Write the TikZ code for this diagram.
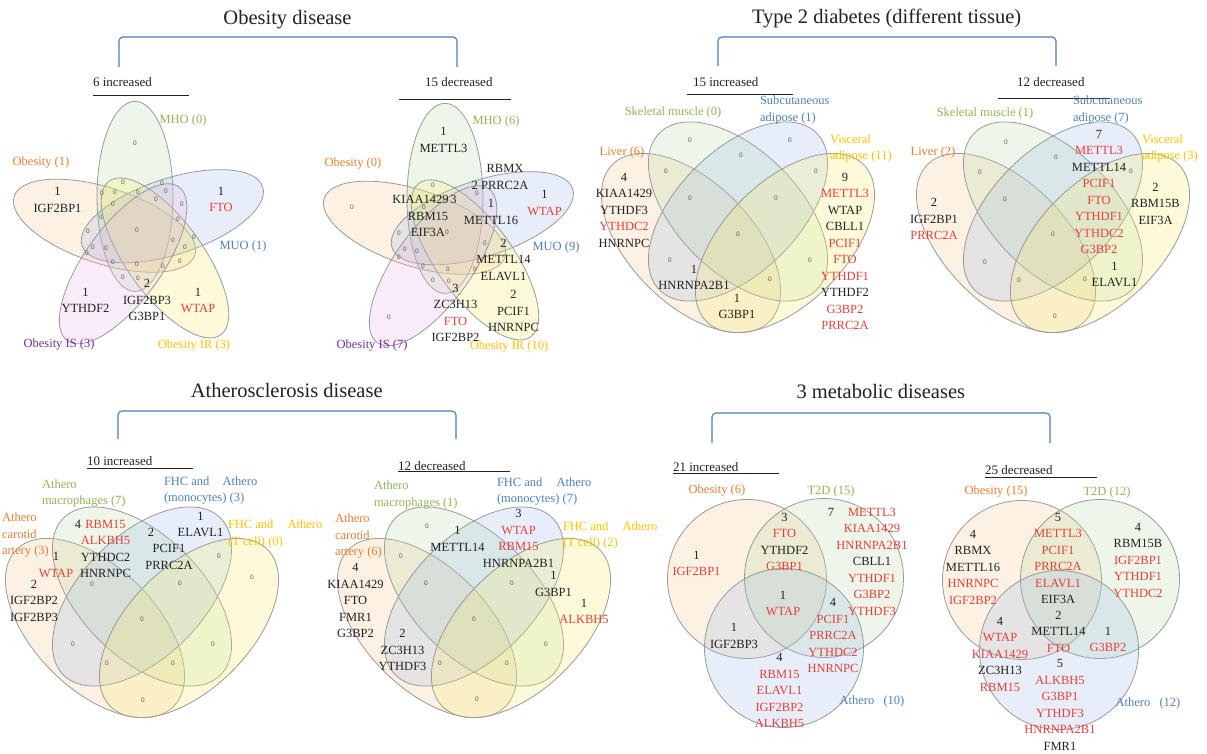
\documentclass[tikz,border=0pt]{standalone}
\usepackage{fontspec}
\setmainfont{Liberation Serif}
\setsansfont{Liberation Sans}
\definecolor{ink}{HTML}{222222}
\definecolor{gred}{HTML}{E5403A}
\definecolor{zgray}{HTML}{5A5A5A}
\definecolor{edge}{HTML}{9A9A9A}
\definecolor{bracket}{HTML}{4A7EBB}
\definecolor{cOr}{HTML}{ED7D31}
\definecolor{cGr}{HTML}{92B455}
\definecolor{cBl}{HTML}{4F81BD}
\definecolor{cYe}{HTML}{FFC000}
\definecolor{cPu}{HTML}{7030A0}
\definecolor{fOr}{HTML}{F4C68B}
\definecolor{fGr}{HTML}{B8DAA4}
\definecolor{fBl}{HTML}{9CB8E8}
\definecolor{fYe}{HTML}{F8EE68}
\definecolor{fPu}{HTML}{E8B3E2}
\newcommand{\genered}[1]{\textcolor{gred}{#1}}
\tikzset{
  every node/.style={inner sep=0pt, outer sep=0pt, text=ink},
  gene/.style={font=\fontsize{12.5}{16.5}\selectfont, align=center},
  lab/.style={font=\fontsize{12.5}{16.5}\selectfont},
  labl/.style={lab, align=left, anchor=west},
  zero/.style={font=\sffamily\fontsize{6.5}{6.5}\selectfont, text=zgray},
  ttl/.style={font=\fontsize{20.5}{24}\selectfont, anchor=base},
  sub/.style={font=\fontsize{13}{15}\selectfont, anchor=base west},
  bar/.style={draw=ink, line width=0.9pt},
  brace/.style={draw=bracket, line width=1.1pt, rounded corners=4pt},
  set/.style={draw=edge, line width=0.8pt, fill opacity=0.24},
}
% five congruent ellipses turned by 72 degrees about (#1,#2)
\newcommand{\fivesets}[2]{%
  \foreach \k/\fc in {4/fOr,0/fGr,1/fBl,2/fYe,3/fPu}{%
    \pgfmathsetmacro{\cx}{#1+36*cos(98-72*\k)}%
    \pgfmathsetmacro{\cy}{#2-36*sin(98-72*\k)}%
    \pgfmathsetmacro{\petalrot}{90-72*\k}%
    \draw[set, fill=\fc, rotate around={\petalrot:(\cx,\cy)}] (\cx,\cy) ellipse [x radius=95pt, y radius=38pt];
  }%
}
% four ellipses, two leaning each way; (#1,#2) is the centre of the inner pair
\newcommand{\quadsets}[2]{%
  \draw[set, fill=fOr, rotate around={-45:(#1-47,#2+31.5)}] (#1-47,#2+31.5) ellipse [x radius=111pt, y radius=61pt];
  \draw[set, fill=fGr, rotate around={-45:(#1,#2)}] (#1,#2) ellipse [x radius=111pt, y radius=61pt];
  \draw[set, fill=fBl, rotate around={45:(#1,#2)}] (#1,#2) ellipse [x radius=111pt, y radius=61pt];
  \draw[set, fill=fYe, rotate around={45:(#1+47,#2+31.5)}] (#1+47,#2+31.5) ellipse [x radius=111pt, y radius=61pt];
}
\begin{document}
\begin{tikzpicture}[x=1pt,y=-1pt]
\fill[white] (0,0) rectangle (1207,754);
\useasboundingbox (0,0) rectangle (1207,754);

% ---------- headings and brackets ----------
\node[ttl] (t1) at (287.5,25) {Obesity disease};
\node[ttl] (t2) at (886.7,24) {Type 2 diabetes (different tissue)};
\node[ttl] (t3) at (286.7,397) {Atherosclerosis disease};
\node[ttl] (t4) at (880.8,398) {3 metabolic diseases};
\draw[brace] (119,67) -- (119,37) -- (457,37) -- (457,67);
\draw[brace] (718,66) -- (718,37) -- (1056,37) -- (1056,66);
\draw[brace] (118,439) -- (118,411) -- (456,411) -- (456,439);
\draw[brace] (712,443) -- (712,413) -- (1050,413) -- (1050,443);

\node[sub] (h1) at (93,87) {6 increased};
\draw[bar] (93,95) -- (189,95);
\node[sub] (h2) at (425,87) {15 decreased};
\draw[bar] (399,99) -- (511,99);
\node[sub] (h3) at (693,87) {15 increased};
\draw[bar] (687,94) -- (793,94);
\node[sub] (h4) at (1017,87) {12 decreased};
\draw[bar] (998,98) -- (1110,98);
\node[sub] (h5) at (87,465) {10 increased};
\draw[bar] (87,468) -- (193,468);
\node[sub] (h6) at (398,470) {12 decreased};
\draw[bar] (398,471) -- (510,471);
\node[sub] (h7) at (673,471) {21 increased};
\draw[bar] (673,473.5) -- (779,473.5);
\node[sub] (h8) at (985,474) {25 decreased};
\draw[bar] (985,477) -- (1097,477);

% ---------- obesity, increased ----------
\fivesets{140}{232}
\foreach \p [count=\i] in {(135,143),(102,193),(115,192),(123,182),(138,192),(162,183),(166,191),(113,204),(156,199),(182,204),(101,217),(178,219),(88,231),(137,230),(173,240),(194,237),(93,247),(106,248),(185,247),(87,253),(113,262),(137,264),(163,266),(180,261),(123,277),(138,278)}
  \node[zero] (za\i) at \p {0};
\node[lab, text=cGr] (aMHO) at (183,120) {MHO (0)};
\node[lab, text=cOr] (aOB) at (41,163) {Obesity (1)};
\node[lab, text=cBl] (aMUO) at (243,246) {MUO (1)};
\node[lab, text=cPu] (aIS) at (59,345) {Obesity IS (3)};
\node[lab, text=cYe] (aIR) at (194,346) {Obesity IR (3)};
\node[gene] (ag1) at (57.5,200) {1\\IGF2BP1};
\node[gene] (ag2) at (221,199.5) {1\\\genered{FTO}};
\node[gene] (ag3) at (85.5,300.5) {1\\YTHDF2};
\node[gene] (ag4) at (147,300) {2\\IGF2BP3\\G3BP1};
\node[gene] (ag5) at (198,300.5) {1\\\genered{WTAP}};

% ---------- obesity, decreased ----------
\fivesets{450}{234}
\foreach \p [count=\i] in {(352,207),(433,185),(424,207),(477,193),(447,232),(399,233),(485,243),(405,249),(417,251),(399,257),(423,266),(448,269),(475,269),(433,280),(449,281),(389,317)}
  \node[zero] (zb\i) at \p {0};
\node[lab, text=cGr] (bMHO) at (496,121) {MHO (6)};
\node[lab, text=cOr] (bOB) at (353,164) {Obesity (0)};
\node[lab, text=cBl] (bMUO) at (556,247) {MUO (9)};
\node[lab, text=cPu] (bIS) at (372,346) {Obesity IS (7)};
\node[lab, text=cYe] (bIR) at (509,347) {Obesity IR (10)};
\node[gene] (bg1) at (443.5,140) {1\\METTL3};
\node[gene] (bg2) at (505,168) {RBMX};
\node[gene] (bg3) at (500,185) {2 PRRC2A};
\node[gene] (bg4) at (544.5,203) {1\\\genered{WTAP}};
\node[gene] (bg5) at (420.5,199) {KIAA1429};
\node[gene] (bg6) at (453.5,199) {3};
\node[gene] (bg7) at (428,224.5) {RBM15\\EIF3A};
\node[gene] (bg8) at (491,212) {1\\METTL16};
\node[gene] (bg9) at (503.5,259.5) {2\\METTL14\\ELAVL1};
\node[gene] (bg10) at (513.5,311) {2\\PCIF1\\HNRNPC};
\node[gene] (bg11) at (455.5,313) {3\\ZC3H13\\\genered{FTO}\\IGF2BP2};

% ---------- type 2 diabetes, increased ----------
\quadsets{738}{211.5}
\foreach \p [count=\i] in {(690,140),(790,140),(741,155),(666,171),(816,171),(690,198),(776,198),(738,234),(670,260),(810,260),(770,279)}
  \node[zero] (zc\i) at \p {0};
\node[lab, text=cGr] (cSK) at (673,112) {Skeletal muscle (0)};
\node[labl, text=cBl] (cSC) at (760,110) {Subcutaneous\\adipose (1)};
\node[lab, text=cOr] (cLV) at (622,152) {Liver (6)};
\node[labl, text=cYe] (cVI) at (830,148.5) {Visceral\\adipose (11)};
\node[gene] (cg1) at (624,210) {4\\KIAA1429\\YTHDF3\\\genered{YTHDC2}\\HNRNPC};
\node[gene] (cg2) at (694,277.5) {1\\HNRNPA2B1};
\node[gene] (cg3) at (737,306.5) {1\\G3BP1};
\node[gene] (cg4) at (845,251.5) {9\\\genered{METTL3}\\WTAP\\CBLL1\\\genered{PCIF1}\\\genered{FTO}\\\genered{YTHDF1}\\YTHDF2\\\genered{G3BP2}\\\genered{PRRC2A}};

% ---------- type 2 diabetes, decreased ----------
\quadsets{1053}{211.5}
\foreach \p [count=\i] in {(1006,142),(1056,157),(980,172),(1131,171),(1005,199),(1053,234),(985,262),(1019,280),(1085,279),(1055,316)}
  \node[zero] (zd\i) at \p {0};
\node[lab, text=cGr] (dSK) at (985,113) {Skeletal muscle (1)};
\node[labl, text=cBl] (dSC) at (1073,110) {Subcutaneous\\adipose (7)};
\node[lab, text=cOr] (dLV) at (933,152) {Liver (2)};
\node[labl, text=cYe] (dVI) at (1142,148.5) {Visceral\\adipose (3)};
\node[gene] (dg1) at (934,219) {2\\IGF2BP1\\\genered{PRRC2A}};
\node[gene] (dg2) at (1099,192) {7\\\genered{METTL3}\\METTL14\\\genered{PCIF1}\\\genered{FTO}\\\genered{YTHDF1}\\\genered{YTHDC2}\\\genered{G3BP2}};
\node[gene] (dg3) at (1155.5,203.5) {2\\RBM15B\\EIF3A};
\node[gene] (dg4) at (1114.5,274.5) {1\\ELAVL1};

% ---------- atherosclerosis, increased ----------
\quadsets{142}{596.5}
\foreach \p [count=\i] in {(92,584),(180,583),(219,556),(252,577),(142,619),(73,644),(213,644),(107,663),(173,663),(143,700)}
  \node[zero] (ze\i) at \p {0};
\node[labl, text=cGr] (eMA) at (42,493.5) {Athero\\macrophages (7)};
\node[labl, text=cBl] (eMO) at (164,490.5) {FHC and\hspace{10pt} Athero\\(monocytes) (3)};
\node[labl, text=cOr] (eCA) at (2,535.5) {Athero\\carotid\\artery (3)};
\node[labl, text=cYe] (eTC) at (228,534) {FHC and\hspace{11pt} Athero\\(T cell) (0)};
\node[gene] (eg1) at (78,524) {4};
\node[gene] (eg2) at (105.5,549) {\genered{RBM15}\\\genered{ALKBH5}\\YTHDC2\\HNRNPC};
\node[gene] (eg3) at (151,532) {2};
\node[gene] (eg4) at (169,557) {PCIF1\\PRRC2A};
\node[gene] (eg5) at (200.5,524.5) {1\\ELAVL1};
\node[gene] (eg6) at (56,565) {1\\\genered{WTAP}};
\node[gene] (eg7) at (34,600.5) {2\\IGF2BP2\\IGF2BP3};

% ---------- atherosclerosis, decreased ----------
\quadsets{474}{596.5}
\foreach \p [count=\i] in {(427,526),(401,556),(426,583),(512,583),(474,619),(546,644),(440,663),(507,663),(477,699)}
  \node[zero] (zf\i) at \p {0};
\node[labl, text=cGr] (fMA) at (374,495) {Athero\\macrophages (1)};
\node[labl, text=cBl] (fMO) at (497,491.5) {FHC and\hspace{11pt} Athero\\(monocytes) (7)};
\node[labl, text=cOr] (fCA) at (335,536.5) {Athero\\carotid\\artery (6)};
\node[labl, text=cYe] (fTC) at (563,535.5) {FHC and\hspace{11pt} Athero\\(T cell) (2)};
\node[gene] (fg1) at (457.5,539) {1\\METTL14};
\node[gene] (fg2) at (518.5,538.5) {3\\\genered{WTAP}\\\genered{RBM15}\\HNRNPA2B1};
\node[gene] (fg3) at (553.5,584) {1\\G3BP1};
\node[gene] (fg4) at (584,611.5) {1\\\genered{ALKBH5}};
\node[gene] (fg5) at (355.5,600.5) {4\\KIAA1429\\FTO\\FMR1\\G3BP2};
\node[gene] (fg6) at (402.5,650) {2\\ZC3H13\\YTHDF3};

% ---------- three diseases, increased ----------
\draw[set, fill=fOr] (747,579) circle [radius=79.5pt];
\draw[set, fill=fGr] (824,578) circle [radius=79.5pt];
\draw[set, fill=fBl] (784,648) circle [radius=79.5pt];
\node[lab, text=cOr] (gOB) at (717,491) {Obesity (6)};
\node[lab, text=cGr] (gT2) at (831,491) {T2D (15)};
\node[lab, text=cBl] (gAT) at (872,701) {Athero\hspace{6pt} (10)};
\node[gene] (gg1) at (696.5,563.5) {1\\\genered{IGF2BP1}};
\node[gene] (gg2) at (784.5,542) {3\\\genered{FTO}\\YTHDF2\\\genered{G3BP1}};
\node[gene] (gg3) at (831,512) {7};
\node[gene] (gg4) at (872,561.5) {\genered{METTL3}\\\genered{KIAA1429}\\\genered{HNRNPA2B1}\\CBLL1\\\genered{YTHDF1}\\\genered{G3BP2}\\\genered{YTHDF3}};
\node[gene] (gg5) at (783,603.5) {1\\\genered{WTAP}};
\node[gene] (gg6) at (734,636) {1\\IGF2BP3};
\node[gene] (gg7) at (833,635.5) {4\\\genered{PCIF1}\\\genered{PRRC2A}\\\genered{YTHDC2}\\\genered{HNRNPC}};
\node[gene] (gg8) at (779.5,690.5) {4\\\genered{RBM15}\\\genered{ELAVL1}\\\genered{IGF2BP2}\\\genered{ALKBH5}};

% ---------- three diseases, decreased ----------
\draw[set, fill=fOr] (1022,580) circle [radius=79.5pt];
\draw[set, fill=fGr] (1100,579) circle [radius=79.5pt];
\draw[set, fill=fBl] (1059,650) circle [radius=79.5pt];
\node[lab, text=cOr] (hOB) at (996,492) {Obesity (15)};
\node[lab, text=cGr] (hT2) at (1107,492) {T2D (12)};
\node[lab, text=cBl] (hAT) at (1148,703) {Athero\hspace{6pt} (12)};
\node[gene] (hg1) at (973,567) {4\\RBMX\\METTL16\\\genered{HNRNPC}\\\genered{IGF2BP2}};
\node[gene] (hg2) at (1058,558.5) {5\\\genered{METTL3}\\\genered{PCIF1}\\\genered{PRRC2A}\\\genered{ELAVL1}\\EIF3A};
\node[gene] (hg3) at (1058.5,631.5) {2\\METTL14\\\genered{FTO}};
\node[gene] (hg4) at (1138,560) {4\\RBM15B\\\genered{IGF2BP1}\\\genered{YTHDF1}\\\genered{YTHDC2}};
\node[gene] (hg5) at (1000,654) {4\\\genered{WTAP}\\\genered{KIAA1429}\\ZC3H13\\\genered{RBM15}};
\node[gene] (hg6) at (1108,639.5) {1\\\genered{G3BP2}};
\node[gene] (hg7) at (1060,705) {5\\\genered{ALKBH5}\\\genered{G3BP1}\\\genered{YTHDF3}\\\genered{HNRNPA2B1}\\FMR1};
\end{tikzpicture}
\end{document}
